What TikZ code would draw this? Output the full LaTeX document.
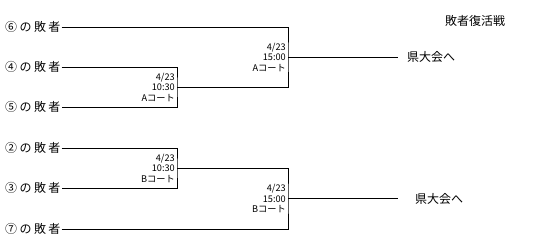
\documentclass[tikz,border=0pt]{standalone}
\usepackage{fontspec}
\setmainfont{Noto Sans CJK JP}
\newfontfamily\jpwide[LetterSpace=20]{Noto Sans CJK JP}
\usetikzlibrary{positioning}
\tikzset{
  line/.style={draw=black,line width=.9pt},
  team/.style={anchor=west,inner xsep=1pt,inner ysep=1pt,font=\jpwide\fontsize{12}{12}\selectfont},
  match/.style={anchor=east,align=right,inner xsep=2pt,inner ysep=0pt,
    font=\fontsize{9.2}{10.5}\selectfont},
  goal/.style={anchor=west,inner ysep=1pt,font=\fontsize{12}{12}\selectfont},
  heading/.style={anchor=west,inner sep=0pt,font=\fontsize{12}{12}\selectfont},
}
\begin{document}
\begin{tikzpicture}[x=1pt,y=-1pt]
\useasboundingbox (0,0) rectangle (535,251);
\node[heading] (title) at (445,21) {敗者復活戦};
% upper bracket
\node[team] (t6) at (4,27) {⑥の敗者};
\node[team] (t4) at (4,67) {④の敗者};
\node[team] (t5) at (4,107) {⑤の敗者};
\node[match] (m1) at (177,87) {4/23\\10:30\\Aコート};
\node[match] (m2) at (288,57) {4/23\\15:00\\Aコート};
\node[goal,inner xsep=9pt] (w1) at (398,57) {県大会へ};
\draw[line] (t4.east) -| (m1.east) |- (t5.east);
\draw[line] (t6.east) -| (m2.east) |- (m1.east);
\draw[line] (m2.east) -- (w1.west);
% lower bracket
\node[team] (t2) at (4,148) {②の敗者};
\node[team] (t3) at (4,188) {③の敗者};
\node[team] (t7) at (4,229) {⑦の敗者};
\node[match] (m3) at (177,168) {4/23\\10:30\\Bコート};
\node[match] (m4) at (288,198.5) {4/23\\15:00\\Bコート};
\node[goal,inner xsep=17pt] (w2) at (398,198.5) {県大会へ};
\draw[line] (t2.east) -| (m3.east) |- (t3.east);
\draw[line] (t7.east) -| (m4.east) |- (m3.east);
\draw[line] (m4.east) -- (w2.west);
\end{tikzpicture}
\end{document}
